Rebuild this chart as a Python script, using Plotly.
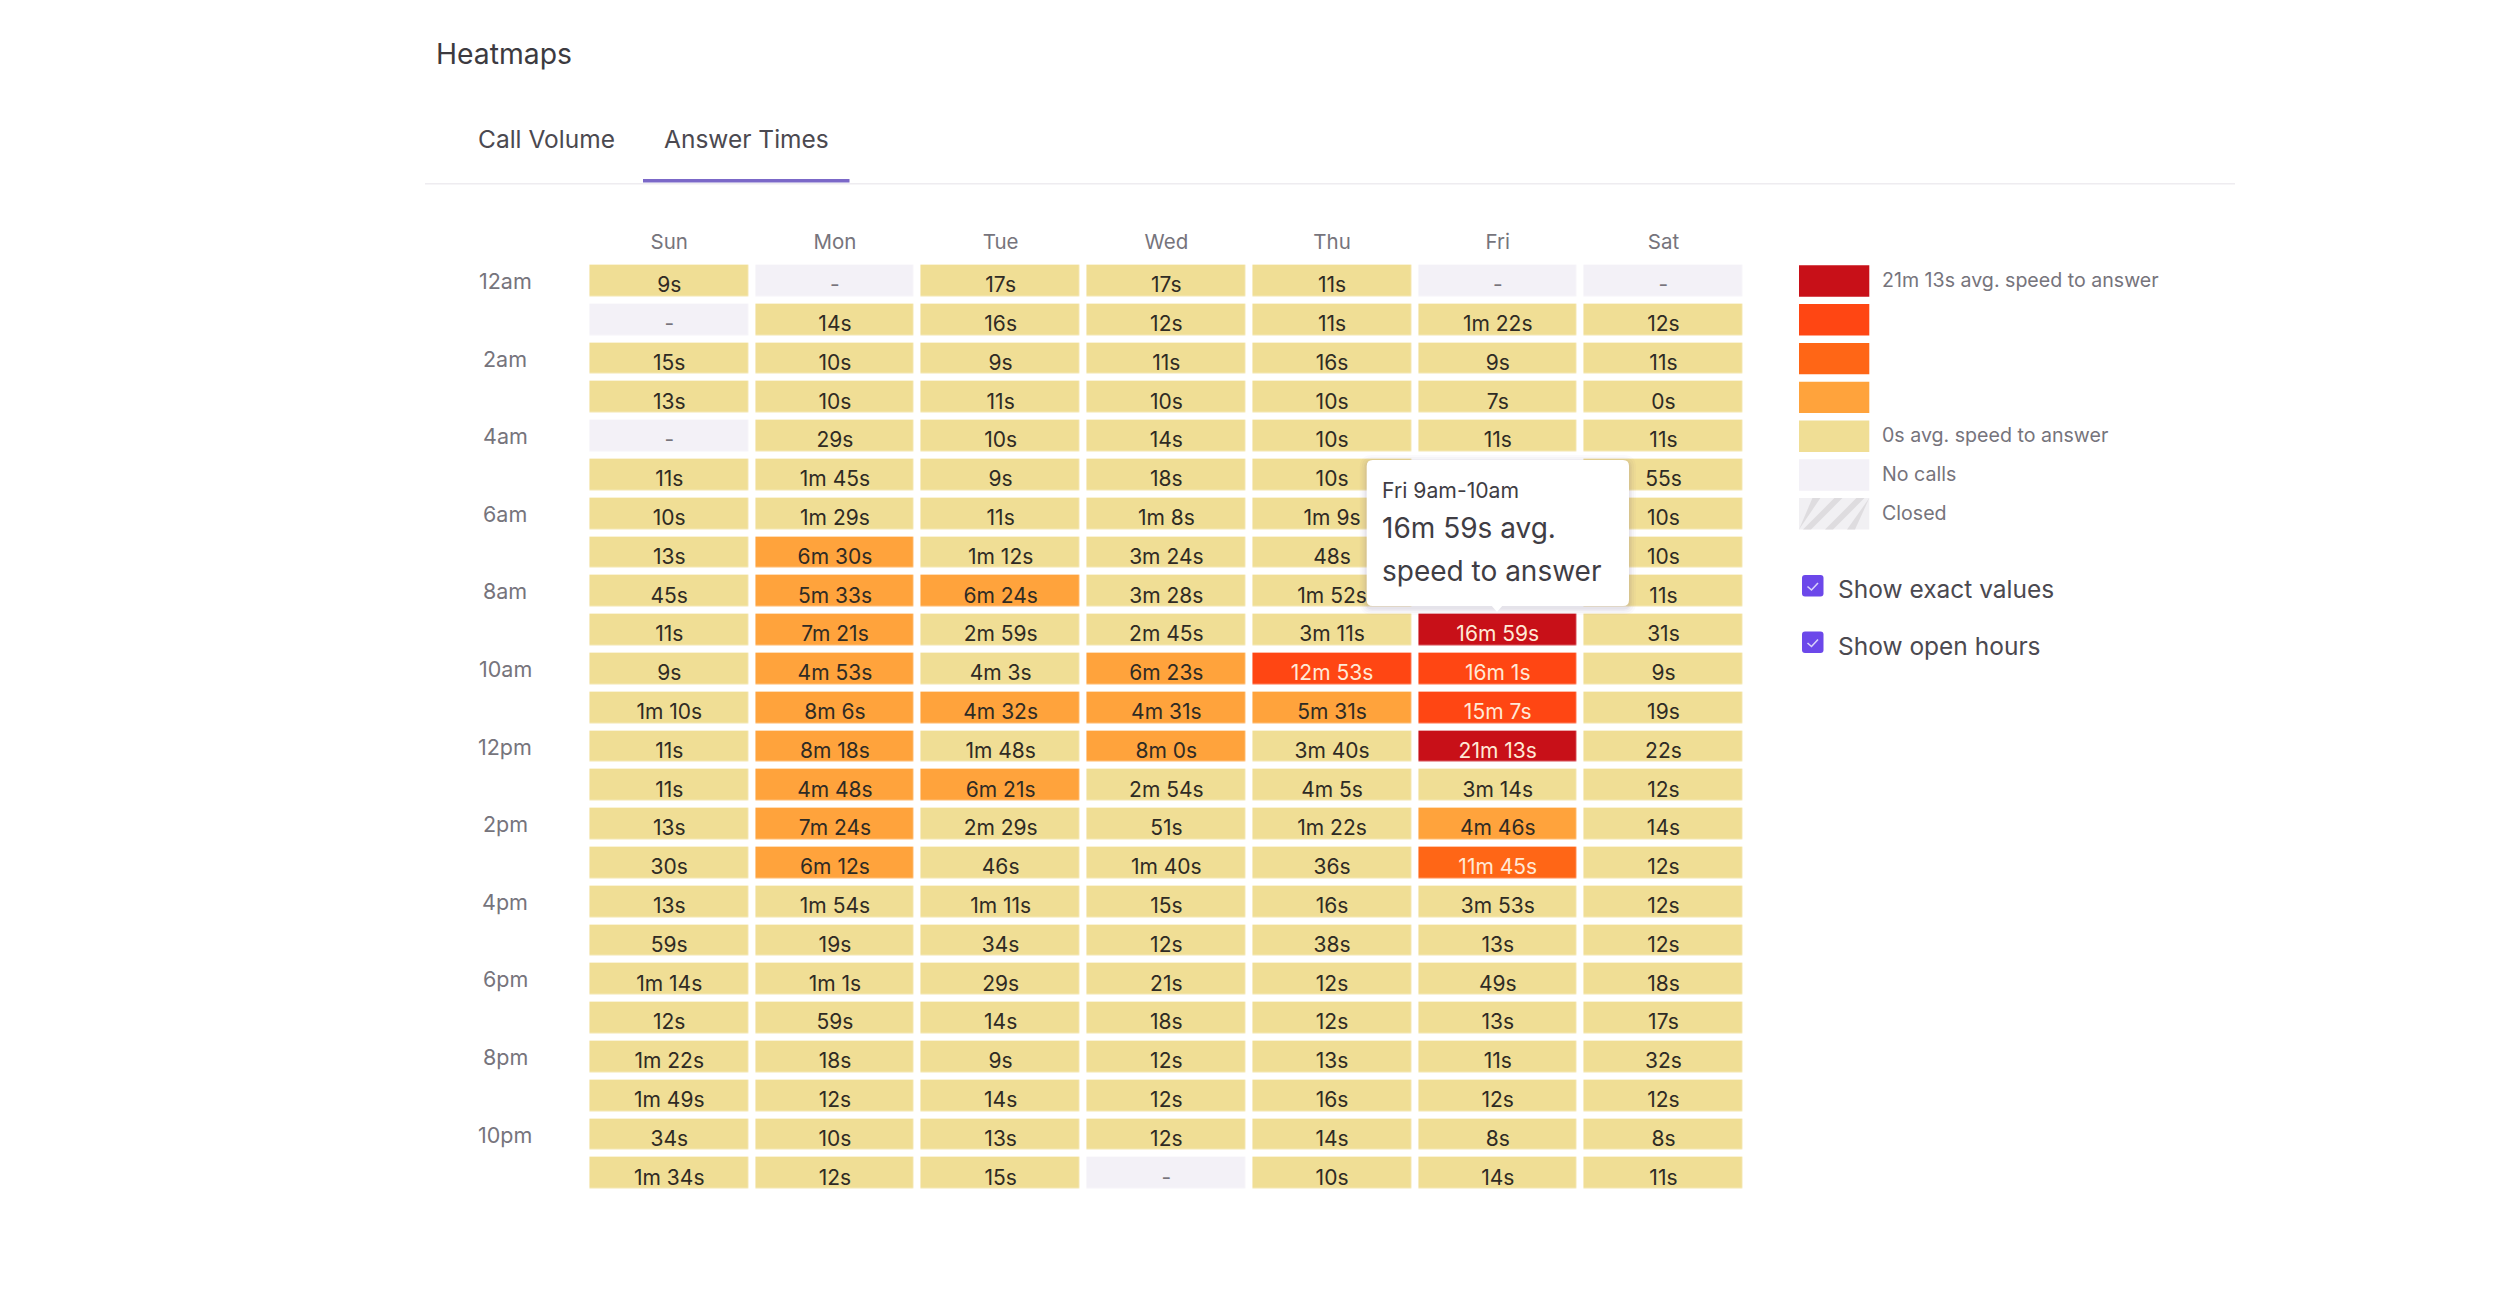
import plotly.graph_objects as go

# ---------- data ----------
days = ["Sun", "Mon", "Tue", "Wed", "Thu", "Fri", "Sat"]
hours = ["12am", "1am", "2am", "3am", "4am", "5am", "6am", "7am", "8am", "9am", "10am", "11am",
         "12pm", "1pm", "2pm", "3pm", "4pm", "5pm", "6pm", "7pm", "8pm", "9pm", "10pm", "11pm"]
hour_labels = ["12am", "2am", "4am", "6am", "8am", "10am", "12pm", "2pm", "4pm", "6pm", "8pm", "10pm"]

sun = ["9s", "-", "15s", "13s", "-", "11s", "10s", "13s", "45s", "11s", "9s", "1m 10s",
       "11s", "11s", "13s", "30s", "13s", "59s", "1m 14s", "12s", "1m 22s", "1m 49s", "34s", "1m 34s"]
mon = ["-", "14s", "10s", "10s", "29s", "1m 45s", "1m 29s", "6m 30s", "5m 33s", "7m 21s", "4m 53s", "8m 6s",
       "8m 18s", "4m 48s", "7m 24s", "6m 12s", "1m 54s", "19s", "1m 1s", "59s", "18s", "12s", "10s", "12s"]
tue = ["17s", "16s", "9s", "11s", "10s", "9s", "11s", "1m 12s", "6m 24s", "2m 59s", "4m 3s", "4m 32s",
       "1m 48s", "6m 21s", "2m 29s", "46s", "1m 11s", "34s", "29s", "14s", "9s", "14s", "13s", "15s"]
wed = ["17s", "12s", "11s", "10s", "14s", "18s", "1m 8s", "3m 24s", "3m 28s", "2m 45s", "6m 23s", "4m 31s",
       "8m 0s", "2m 54s", "51s", "1m 40s", "15s", "12s", "21s", "18s", "12s", "12s", "12s", "-"]
thu = ["11s", "11s", "16s", "10s", "10s", "10s", "1m 9s", "48s", "1m 52s", "3m 11s", "12m 53s", "5m 31s",
       "3m 40s", "4m 5s", "1m 22s", "36s", "16s", "38s", "12s", "12s", "13s", "16s", "14s", "10s"]
# 5am-8am on Friday lie behind the tooltip and cannot be read: left empty
fri = ["-", "1m 22s", "9s", "7s", "11s", "", "", "", "", "16m 59s", "16m 1s", "15m 7s",
       "21m 13s", "3m 14s", "4m 46s", "11m 45s", "3m 53s", "13s", "49s", "13s", "11s", "12s", "8s", "14s"]
sat = ["-", "12s", "11s", "0s", "11s", "55s", "10s", "10s", "11s", "31s", "9s", "19s",
       "22s", "12s", "14s", "12s", "12s", "12s", "18s", "17s", "32s", "12s", "8s", "11s"]
columns = [sun, mon, tue, wed, thu, fri, sat]

legend_labels = ["21m 13s avg. speed to answer", "", "", "", "0s avg. speed to answer", "No calls", "Closed"]
toggles = ["Show exact values", "Show open hours"]
tooltip_lines = ["Fri 9am-10am", "16m 59s avg.", "speed to answer"]
tab_labels = ["Call Volume", "Answer Times"]

# ---------- style ----------
W, H = 2508, 1298
FONT = "Inter"
YELLOW, ORANGE, ORANGE2, RED_ORANGE, RED = "#F0DE95", "#FFA33C", "#FF6616", "#FF4613", "#C81018"
NOCALL = "#F3F1F7"
PURPLE = "#6C48EA"
band_colors = [NOCALL, YELLOW, ORANGE, ORANGE2, RED_ORANGE, RED]


def seconds(label):
    total = 0
    for part in label.split():
        total += int(part[:-1]) * (60 if part[-1] == "m" else 1)
    return total


grid = [[columns[c][r] for c in range(7)] for r in range(24)]
vmax = max(seconds(v) for row in grid for v in row if v not in ("", "-"))
band = vmax / 5.0
colorscale = []
for i, col in enumerate(band_colors):
    colorscale += [[i / 6.0, col], [(i + 1) / 6.0, col]]

PX0, PITCHX, CELLW = 590.0, 165.7, 158.5
PY0, PITCHY, CELLH = 265.3, 38.8, 31.4
TEXT_DROP = 6.0
gapx, gapy = PITCHX - CELLW, PITCHY - CELLH
pl, pr = PX0 - gapx / 2, PX0 - gapx / 2 + 7 * PITCHX
pt, pb = PY0 - gapy / 2, PY0 - gapy / 2 + 24 * PITCHY


def X(v):
    return v / W


def Y(v):
    return 1 - v / H


def cell_value(label):
    if label == "":
        return None
    if label == "-":
        return -band / 2
    return seconds(label)


def text_color(label):
    if label == "-":
        return "#77747C"
    return "#FFE9D6" if seconds(label) >= 2 * band else "#2F2B24"


z = [[cell_value(v) for v in row] for row in grid]

fig = go.Figure()
fig.add_trace(go.Heatmap(
    x=days, y=hours, z=z, text=grid,
    colorscale=colorscale, zmin=-band, zmax=5 * band, showscale=False,
    xgap=gapx, ygap=gapy, hoverongaps=False,
    hovertemplate="%{x} %{y}<br>%{text}<extra></extra>",
))
labelled = [(days[c], hours[r], grid[r][c]) for r in range(24) for c in range(7) if grid[r][c]]
fig.add_trace(go.Scatter(
    x=[a for a, _, _ in labelled], y=[b for _, b, _ in labelled], text=[t for _, _, t in labelled],
    yaxis="y2", mode="text", textposition="middle center", hoverinfo="skip", cliponaxis=False,
    textfont=dict(family=FONT, size=21, color=[text_color(t) for _, _, t in labelled]),
))

shapes, annotations = [], []


def rrect(x0, y0, x1, y1, r):
    p = lambda a, b: f"{X(a)},{Y(b)}"
    return (f"M {p(x0 + r, y0)} L {p(x1 - r, y0)} Q {p(x1, y0)} {p(x1, y0 + r)} "
            f"L {p(x1, y1 - r)} Q {p(x1, y1)} {p(x1 - r, y1)} L {p(x0 + r, y1)} "
            f"Q {p(x0, y1)} {p(x0, y1 - r)} L {p(x0, y0 + r)} Q {p(x0, y0)} {p(x0 + r, y0)} Z")


def rect(x0, y0, x1, y1, fill, layer="above"):
    shapes.append(dict(type="rect", xref="paper", yref="paper", x0=X(x0), x1=X(x1), y0=Y(y1), y1=Y(y0),
                       fillcolor=fill, line=dict(width=0), layer=layer))


def path(d, fill="rgba(0,0,0,0)", line=None):
    shapes.append(dict(type="path", xref="paper", yref="paper", path=d, fillcolor=fill,
                       line=line or dict(width=0), layer="above"))


def text(x, y, s, size, color, anchor="left"):
    annotations.append(dict(x=X(x), y=Y(y), xref="paper", yref="paper", text=s, showarrow=False,
                            xanchor=anchor, yanchor="middle", align=anchor,
                            xshift=0, yshift=0, borderpad=0, borderwidth=0,
                            font=dict(family=FONT, size=size, color=color)))


# header
text(435.5, 54, "Heatmaps", 28.3, "#3C3A40")
text(477.5, 139.5, tab_labels[0], 24.5, "#4B4950")
text(664, 139.5, tab_labels[1], 24.5, "#4B4950")
rect(425, 183, 2235, 184.5, "#EEECF0")
rect(643, 179, 849.5, 182.5, "#7B68C8")

# hour labels on the heatmap's own y axis
for h in hour_labels:
    annotations.append(dict(x=X(505), xref="paper", y=h, yref="y", text=h, showarrow=False,
                            xanchor="center", yanchor="middle",
                            font=dict(family=FONT, size=21.5, color="#76747C")))

# legend
sw_x0, sw_x1 = 1799, 1869.3
for i, (c, lab) in enumerate(zip([RED, RED_ORANGE, ORANGE2, ORANGE, YELLOW, NOCALL, "#F1F0F3"], legend_labels)):
    y0 = PY0 + i * PITCHY
    rect(sw_x0, y0, sw_x1, y0 + CELLH, c)
    if lab:
        text(1881.5, y0 + CELLH / 2 - 1, lab, 19.6, "#76747C")
y0 = PY0 + 6 * PITCHY
y1 = y0 + CELLH
for start in range(-18, 70, 22):
    xa, xb = start, start + 8
    pts = [(xa, y1), (xb, y1), (xb + CELLH, y0), (xa + CELLH, y0)]
    pts = [(min(max(sw_x0 + a, sw_x0), sw_x1), b) for a, b in pts]
    path("M " + " L ".join(f"{X(a)},{Y(b)}" for a, b in pts) + " Z", fill="#DEDCDF")

# toggles
for lab, top in zip(toggles, [575, 631.5]):
    path(rrect(1802, top, 1823.5, top + 21.5, 3), fill=PURPLE)
    d = f"M {X(1807.5)},{Y(top + 11.5)} L {X(1811.5)},{Y(top + 15)} L {X(1818)},{Y(top + 8)}"
    path(d, line=dict(color="#D9D2FA", width=1.6))
    text(1838, top + 14.5, lab, 24.5, "#4B4950")

# tooltip, drawn over the heatmap
tx0, ty0, tx1, ty1 = 1366.7, 460, 1629, 606
for grow, alpha in [(7, 0.025), (5, 0.03), (3, 0.04), (1.5, 0.05)]:
    path(rrect(tx0 - grow, ty0 - grow + 2, tx1 + grow, ty1 + grow + 2, 6 + grow), fill=f"rgba(70,60,110,{alpha})")
path(rrect(tx0, ty0, tx1, ty1, 6), fill="#FFFFFF")
path(f"M {X(1491)},{Y(ty1 - 1)} L {X(1503)},{Y(ty1 - 1)} L {X(1497)},{Y(ty1 + 6)} Z", fill="#FFFFFF")
text(1382, 490, tooltip_lines[0], 21.2, "#3F3D44")
text(1382, 528.5, tooltip_lines[1], 28, "#3F3D44")
text(1382, 571, tooltip_lines[2], 28, "#3F3D44")

fig.update_layout(
    width=W, height=H, autosize=False, margin=dict(l=0, r=0, t=0, b=0),
    paper_bgcolor="#FFFFFF", plot_bgcolor="rgba(0,0,0,0)", font=dict(family=FONT),
    shapes=shapes, annotations=annotations, showlegend=False,
    xaxis=dict(domain=[X(pl), X(pr)], side="top", type="category", categoryorder="array", categoryarray=days,
               range=[-0.5, 6.5], showgrid=False, zeroline=False, showline=False, ticks="",
               ticklabelstandoff=8, tickfont=dict(family=FONT, size=20.5, color="#76747C"), fixedrange=True),
    yaxis=dict(domain=[Y(pb), Y(pt)], type="category", categoryorder="array", categoryarray=hours,
               range=[23.5, -0.5], showgrid=False, zeroline=False, showline=False, ticks="",
               showticklabels=False, fixedrange=True),
    yaxis2=dict(domain=[Y(pb + TEXT_DROP), Y(pt + TEXT_DROP)], anchor="x", type="category",
                categoryorder="array", categoryarray=hours, range=[23.5, -0.5],
                showgrid=False, zeroline=False, showline=False, ticks="", showticklabels=False, fixedrange=True),
)
fig.write_html("out.html", post_script="document.body.style.margin='0';document.body.style.overflow='hidden';",
               config=dict(displayModeBar=False))
